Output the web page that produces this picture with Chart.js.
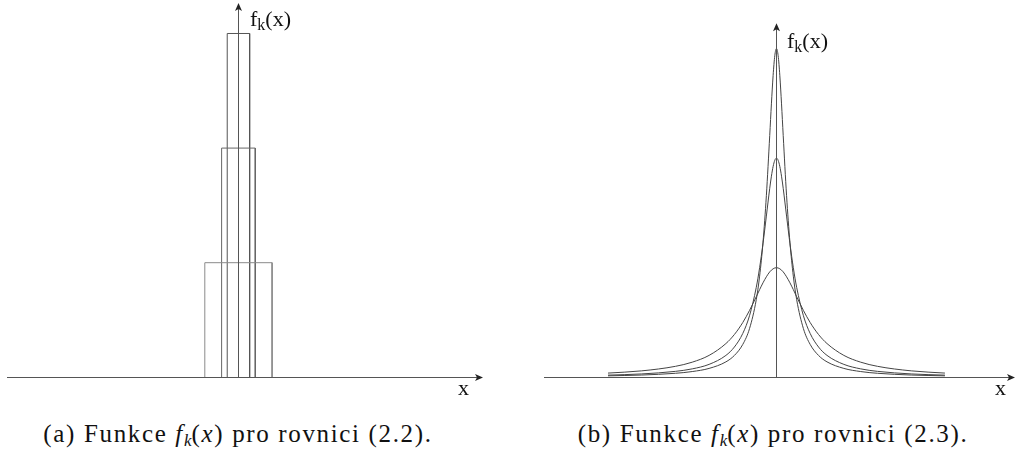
<!DOCTYPE html>
<html>
<head>
<meta charset="utf-8">
<script src="https://cdn.jsdelivr.net/npm/chart.js@4/dist/chart.umd.min.js"></script>
<style>
  html, body { margin: 0; padding: 0; background: #fff; }
  body { width: 1017px; height: 457px; position: relative; overflow: hidden; font-family: "Liberation Serif", serif; color: #111; }
  .box { position: absolute; }
  .lbl { position: absolute; font-family: "Liberation Serif", serif; font-size: 22px; line-height: 1; white-space: nowrap; color: #111; }
  .lbl sub { font-size: 16px; position: relative; top: 4px; vertical-align: baseline; }
  .cap { position: absolute; top: 421px; font-family: "Liberation Serif", serif; font-size: 25px; line-height: 1; white-space: nowrap; letter-spacing: 1.65px; color: #111; text-align: center; }
  .cap sub { font-size: 17px; position: relative; top: 4px; vertical-align: baseline; font-style: italic; letter-spacing: 0; }
</style>
</head>
<body>
<div class="box" style="left:0;top:0;width:508px;height:400px;"><canvas id="chartA" width="508" height="400"></canvas></div>
<div class="box" style="left:520px;top:0;width:497px;height:400px;"><canvas id="chartB" width="497" height="400"></canvas></div>

<div class="lbl" style="left:250px;top:8px;">f<sub>k</sub>(x)</div>
<div class="lbl" style="left:458px;top:377px;">x</div>
<div class="lbl" style="left:787px;top:30px;">f<sub>k</sub>(x)</div>
<div class="lbl" style="left:995px;top:377px;">x</div>

<div class="cap" id="capA" style="left:22px;width:432px;">(a) Funkce <i>f</i><sub>k</sub>(<i>x</i>) pro rovnici (2.2).</div>
<div class="cap" id="capB" style="left:553px;width:440px;">(b) Funkce <i>f</i><sub>k</sub>(<i>x</i>) pro rovnici (2.3).</div>

<script>
// ---- Data: panel (a), rectangular functions f_k ----
const rectK = [1, 2, 3];
const rectHalfWidth = [1, 0.5, 0.3333];
const rectHeight = [0.5, 1.0, 1.5];

// ---- Data: panel (b), peaked curves f_k ----
const curveX = [-5, -4, -3, -2.5, -2, -1.5, -1.25, -1, -0.8, -0.6, -0.5, -0.4, -0.3, -0.2, -0.15, -0.1, -0.05,
                0, 0.05, 0.1, 0.15, 0.2, 0.3, 0.4, 0.5, 0.6, 0.8, 1, 1.25, 1.5, 2, 2.5, 3, 4, 5];
const curveK1 = [0.0385, 0.0588, 0.100, 0.138, 0.200, 0.308, 0.390, 0.500, 0.610, 0.735, 0.800, 0.862, 0.917, 0.962, 0.978, 0.990, 0.9975,
                 1.000, 0.9975, 0.990, 0.978, 0.962, 0.917, 0.862, 0.800, 0.735, 0.610, 0.500, 0.390, 0.308, 0.200, 0.138, 0.100, 0.0588, 0.0385];
const curveK2 = [0.0198, 0.0308, 0.0541, 0.0769, 0.118, 0.200, 0.276, 0.400, 0.562, 0.820, 1.000, 1.220, 1.471, 1.724, 1.835, 1.923, 1.980,
                 2.000, 1.980, 1.923, 1.835, 1.724, 1.471, 1.220, 1.000, 0.820, 0.562, 0.400, 0.276, 0.200, 0.118, 0.0769, 0.0541, 0.0308, 0.0198];
const curveK3 = [0.0133, 0.0207, 0.0366, 0.0524, 0.0811, 0.141, 0.199, 0.300, 0.444, 0.708, 0.923, 1.230, 1.657, 2.206, 2.495, 2.752, 2.934,
                 3.000, 2.934, 2.752, 2.495, 2.206, 1.657, 1.230, 0.923, 0.708, 0.444, 0.300, 0.199, 0.141, 0.0811, 0.0524, 0.0366, 0.0207, 0.0133];

// axis ranges
const rangeA = { xmin: -6.88, xmax: 7.27, ymin: 0, ymax: 1.633 };
const rangeB = { xmin: -6.90, xmax: 7.08, ymin: 0, ymax: 3.23 };

// plugin to draw the arrowed axes through the chart's scales
const arrowAxes = {
  id: 'arrowAxes',
  afterDatasetsDraw(chart) {
    const ctx = chart.ctx;
    const xs = chart.scales.x, ys = chart.scales.y;
    const y0 = Math.round(ys.getPixelForValue(0)) + 0.5;
    const x0 = Math.round(xs.getPixelForValue(0)) + 0.5;
    ctx.save();
    ctx.strokeStyle = '#555';
    ctx.fillStyle = '#222';
    ctx.lineWidth = 1;
    // x axis
    ctx.beginPath();
    ctx.moveTo(xs.left, y0);
    ctx.lineTo(xs.right - 2, y0);
    ctx.stroke();
    ctx.beginPath();
    ctx.moveTo(xs.right, y0);
    ctx.lineTo(xs.right - 8, y0 - 3.5);
    ctx.lineTo(xs.right - 6, y0);
    ctx.lineTo(xs.right - 8, y0 + 3.5);
    ctx.closePath();
    ctx.fill();
    // y axis
    ctx.beginPath();
    ctx.moveTo(x0, y0);
    ctx.lineTo(x0, ys.top + 2);
    ctx.stroke();
    ctx.beginPath();
    ctx.moveTo(x0, ys.top);
    ctx.lineTo(x0 - 3.5, ys.top + 8);
    ctx.lineTo(x0, ys.top + 6);
    ctx.lineTo(x0 + 3.5, ys.top + 8);
    ctx.closePath();
    ctx.fill();
    ctx.restore();
  }
};

function baseOptions(range, pad) {
  return {
    responsive: false,
    maintainAspectRatio: false,
    animation: false,
    layout: { padding: pad },
    plugins: { legend: { display: false }, tooltip: { enabled: false }, title: { display: false } },
    scales: {
      x: { type: 'linear', min: range.xmin, max: range.xmax, display: false },
      y: { type: 'linear', min: range.ymin, max: range.ymax, display: false }
    },
    elements: { point: { radius: 0 } }
  };
}

// Panel (a)
const rectColors = ['#8a8a8a', '#666', '#555'];
const rectDatasets = rectK.map((k, i) => ({
  label: 'k=' + k,
  data: [
    { x: -rectHalfWidth[i], y: 0 },
    { x: -rectHalfWidth[i], y: rectHeight[i] },
    { x: rectHalfWidth[i], y: rectHeight[i] },
    { x: rectHalfWidth[i], y: 0 }
  ],
  borderColor: rectColors[i],
  borderWidth: 1,
  tension: 0,
  fill: false,
  pointRadius: 0
}));

new Chart(document.getElementById('chartA'), {
  type: 'line',
  data: { datasets: rectDatasets },
  options: baseOptions(rangeA, { left: 7, right: 25, top: 3, bottom: 22.7 }),
  plugins: [arrowAxes]
});

// Panel (b)
const curveSets = [curveK1, curveK2, curveK3];
const curveDatasets = curveSets.map((vals, i) => ({
  label: 'k=' + (i + 1),
  data: curveX.map((x, j) => ({ x: x, y: vals[j] })),
  borderColor: '#444',
  borderWidth: 1,
  cubicInterpolationMode: 'monotone',
  fill: false,
  pointRadius: 0
}));

new Chart(document.getElementById('chartB'), {
  type: 'line',
  data: { datasets: curveDatasets },
  options: baseOptions(rangeB, { left: 24, right: 2, top: 23.3, bottom: 22.7 }),
  plugins: [arrowAxes]
});
</script>
</body>
</html>
